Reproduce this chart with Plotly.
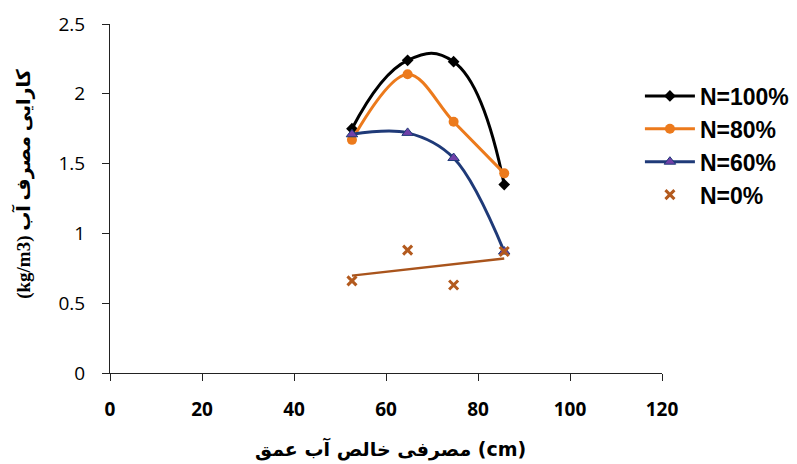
import numpy as np
import plotly.graph_objects as go

# Data
depth = [52.6, 64.7, 74.7, 85.7]
n100 = [1.75, 2.24, 2.23, 1.35]
n80 = [1.67, 2.14, 1.80, 1.43]
n60 = [1.71, 1.72, 1.54, 0.87]
n0 = [0.66, 0.88, 0.63, 0.87]
names = ["N=100%", "N=80%", "N=60%", "N=0%"]
x_ticks = [0, 20, 40, 60, 80, 100, 120]
y_ticks = [0, 0.5, 1, 1.5, 2, 2.5]

# left-to-right word layout as in the reference picture
x_title = "عمق\u200e آب\u200e خالص\u200e مصرفی\u200e (cm)"
y_title = "\u202Bکارایی مصرف آب (kg/m3)\u202C"

# linear trend for N=0%
coef = np.polyfit(depth, n0, 1)
trend_x = [min(depth), max(depth)]
trend_y = list(np.polyval(coef, trend_x))

fig = go.Figure()
fig.add_trace(go.Scatter(
    x=depth, y=n100, name=names[0], mode="lines+markers", legendgroup="a",
    line=dict(color="#000000", width=3, shape="spline", smoothing=1.3),
    marker=dict(symbol="diamond", size=9, color="#000000")))
fig.add_trace(go.Scatter(
    x=depth, y=n80, name=names[1], mode="lines+markers", legendgroup="b",
    line=dict(color="#EC7A1C", width=3, shape="spline", smoothing=1.0),
    marker=dict(symbol="circle", size=10, color="#EC7A1C")))
fig.add_trace(go.Scatter(
    x=depth, y=n60, name=names[2], mode="lines+markers", legendgroup="c",
    line=dict(color="#1F3A78", width=3, shape="spline", smoothing=1.0),
    marker=dict(symbol="triangle-up", size=10, color="#7040A8",
                line=dict(color="#1F3A78", width=1))))
fig.add_trace(go.Scatter(
    x=trend_x, y=trend_y, mode="lines", showlegend=False, hoverinfo="skip",
    line=dict(color="#A9541C", width=2.5)))
fig.add_trace(go.Scatter(
    x=depth, y=n0, name=names[3], mode="markers", legendgroup="d",
    marker=dict(symbol="x-thin", size=9, color="#B35A1E",
                line=dict(color="#B35A1E", width=3))))

fig.update_layout(
    width=789, height=456,
    margin=dict(l=101.5, r=135, t=16, b=91, autoexpand=False),
    paper_bgcolor="white", plot_bgcolor="white",
    showlegend=True,
    legend=dict(x=0.96, y=0.652, xanchor="left", yanchor="middle",
                font=dict(family="Liberation Sans", size=23, color="#000000", weight="bold"),
                traceorder="grouped", tracegroupgap=0, itemwidth=50,
                bgcolor="rgba(0,0,0,0)"),
    font=dict(family="Open Sans", color="#000000"),
    annotations=[
        dict(text=x_title, xref="paper", yref="paper", x=0.509, y=-0.218,
             xanchor="center", yanchor="middle", showarrow=False,
             font=dict(family="DejaVu Sans", size=19, color="#000000", weight="bold")),
        dict(text=y_title, xref="paper", yref="paper", x=-0.157, y=0.543,
             xanchor="center", yanchor="middle", showarrow=False, textangle=-90,
             font=dict(family="Liberation Serif, DejaVu Sans", size=19, color="#000000", weight="bold")),
    ],
)
fig.update_xaxes(
    range=[0, 120], tickvals=x_ticks, ticktext=[str(v) for v in x_ticks],
    showgrid=False, zeroline=False, showline=True, linecolor="#222222", linewidth=1,
    ticks="outside", ticklen=7, tickcolor="#222222", ticklabelstandoff=12, automargin=False,
    tickfont=dict(family="Open Sans", size=19, color="#000000", weight="bold"),
)
fig.update_yaxes(
    range=[0, 2.5], tickvals=y_ticks, ticktext=["0", "0.5", "1", "1.5", "2", "2.5"],
    showgrid=False, zeroline=False, showline=True, linecolor="#222222", linewidth=1,
    ticks="outside", ticklen=7, tickcolor="#222222", ticklabelstandoff=13, automargin=False,
    tickfont=dict(family="Open Sans", size=19, color="#000000"),
)
fig.write_html("out.html")
